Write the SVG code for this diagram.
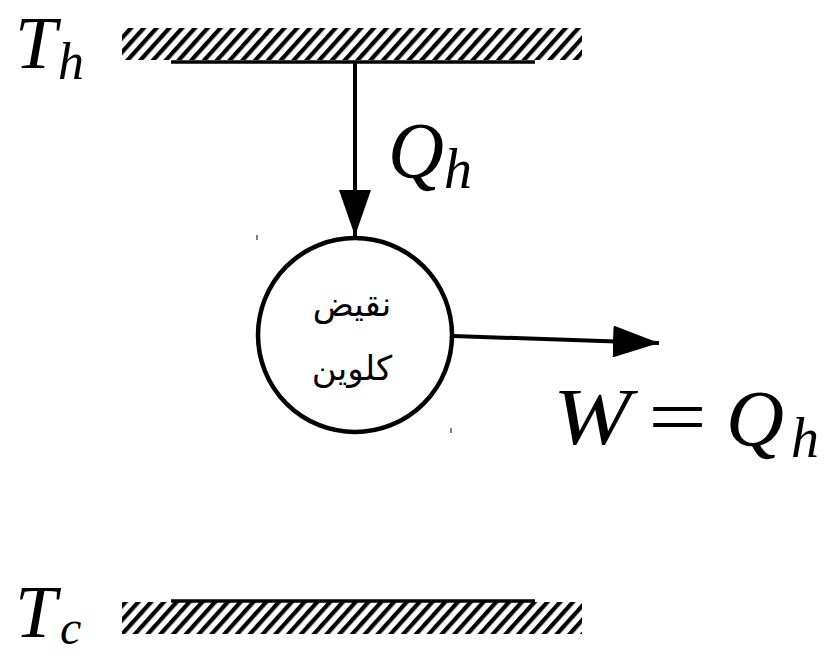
<svg xmlns="http://www.w3.org/2000/svg" width="826" height="656" viewBox="0 0 826 656">
<style>
.math{font-family:"Liberation Serif","DejaVu Serif",serif;font-style:italic;fill:#000}
.op{font-family:"Liberation Serif","DejaVu Serif",serif;fill:#000}
.ar{font-family:"DejaVu Sans","Noto Sans",sans-serif;font-size:34px;fill:#000;text-anchor:middle}
.wall{stroke:#000;stroke-width:3.5;fill:none}
.conn{stroke:#000;stroke-width:4;fill:none}
</style>
<defs>
<pattern id="hatch" patternUnits="userSpaceOnUse" width="9.5" height="9.5" patternTransform="rotate(42)">
<rect x="0" y="0" width="4.2" height="9.5" fill="#000"/>
</pattern>
<marker id="arr" markerUnits="userSpaceOnUse" markerWidth="48" markerHeight="32" refX="46" refY="16" orient="auto">
<path d="M0,0 L46,16 L0,32 Z" fill="#000"/>
</marker>
</defs>
<g id="hot-reservoir">
<rect x="122" y="28" width="460" height="32" fill="url(#hatch)"/>
<line class="wall" x1="171" y1="62" x2="535" y2="62"/>
<text class="math" x="15" y="68" font-size="75">T</text>
<text class="math" x="58" y="79" font-size="52">h</text>
</g>
<g id="cold-reservoir">
<rect x="122" y="602" width="460" height="32" fill="url(#hatch)"/>
<line class="wall" x1="171" y1="601" x2="535" y2="601"/>
<text class="math" x="15" y="637" font-size="75">T</text>
<text class="math" x="60" y="644" font-size="48">c</text>
</g>
<g id="engine">
<circle cx="355" cy="335" r="97" fill="#fff" stroke="#000" stroke-width="4.5"/>
<line x1="257" y1="235" x2="257" y2="240" stroke="#000" stroke-width="1"/>
<line x1="451" y1="428" x2="451" y2="433" stroke="#000" stroke-width="1"/>
<text class="ar" x="352" y="316">نقيض</text>
<text class="ar" x="352" y="380">كلوين</text>
</g>
<g id="connectors">
<line class="conn" x1="355" y1="62" x2="355" y2="236" marker-end="url(#arr)"/>
<line class="conn" x1="453" y1="336" x2="659" y2="343" marker-end="url(#arr)"/>
</g>
<g id="labels">
<text class="math" x="388" y="178" font-size="80" textLength="56" lengthAdjust="spacingAndGlyphs">Q</text>
<text class="math" x="444" y="188" font-size="56">h</text>
<text class="math" x="553" y="444" font-size="80" textLength="78" lengthAdjust="spacingAndGlyphs">W</text>
<text class="op" x="648" y="444" font-size="80" textLength="59" lengthAdjust="spacingAndGlyphs">=</text>
<text class="math" x="726" y="446" font-size="80" textLength="58" lengthAdjust="spacingAndGlyphs">Q</text>
<text class="math" x="791" y="457" font-size="56">h</text>
</g>
</svg>
